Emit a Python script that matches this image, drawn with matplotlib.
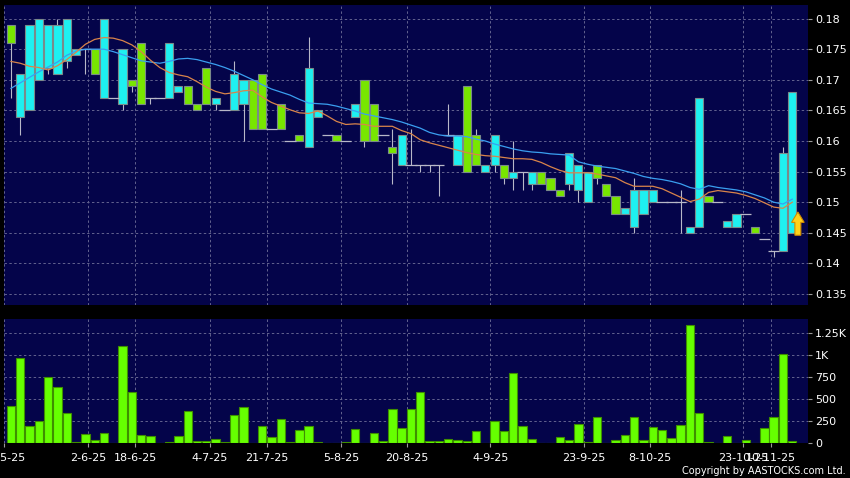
import matplotlib
matplotlib.use("Agg")
import matplotlib.pyplot as plt
import numpy as np
from matplotlib.patches import Polygon

# ---------------- data ----------------
opens = [0.179, 0.164, 0.165, 0.170, 0.172, 0.171, 0.173, 0.174, 0.175, 0.175,
         0.167, 0.167, 0.166, 0.170, 0.176, 0.167, 0.167, 0.167, 0.168, 0.169,
         0.166, 0.172, 0.166, 0.165, 0.165, 0.166, 0.170, 0.171, 0.162, 0.166,
         0.160, 0.161, 0.159, 0.164, 0.161, 0.161, 0.160, 0.164, 0.170, 0.166,
         0.161, 0.159, 0.156, 0.156, 0.156, 0.156, 0.156, 0.161, 0.156, 0.169,
         0.161, 0.155, 0.156, 0.156, 0.154, 0.155, 0.153, 0.155, 0.154, 0.152,
         0.153, 0.152, 0.150, 0.156, 0.153, 0.151, 0.148, 0.146, 0.148, 0.150,
         0.150, 0.150, 0.150, 0.145, 0.146, 0.151, 0.150, 0.146, 0.146, 0.148,
         0.146, 0.144, 0.142, 0.142, 0.145]
highs = [0.179, 0.171, 0.179, 0.180, 0.179, 0.180, 0.180, 0.175, 0.175, 0.175,
         0.180, 0.167, 0.175, 0.170, 0.176, 0.167, 0.167, 0.176, 0.169, 0.169,
         0.166, 0.172, 0.167, 0.165, 0.173, 0.170, 0.170, 0.171, 0.162, 0.166,
         0.160, 0.161, 0.177, 0.165, 0.161, 0.161, 0.160, 0.166, 0.170, 0.166,
         0.161, 0.162, 0.161, 0.162, 0.156, 0.156, 0.156, 0.166, 0.161, 0.169,
         0.162, 0.156, 0.161, 0.156, 0.160, 0.155, 0.155, 0.155, 0.154, 0.152,
         0.158, 0.156, 0.155, 0.156, 0.153, 0.151, 0.149, 0.154, 0.152, 0.152,
         0.150, 0.150, 0.152, 0.146, 0.167, 0.151, 0.150, 0.147, 0.148, 0.148,
         0.146, 0.144, 0.142, 0.159, 0.168]
lows = [0.167, 0.161, 0.165, 0.170, 0.171, 0.171, 0.172, 0.174, 0.171, 0.171,
        0.167, 0.167, 0.165, 0.168, 0.166, 0.166, 0.167, 0.167, 0.168, 0.166,
        0.165, 0.166, 0.165, 0.165, 0.165, 0.160, 0.162, 0.162, 0.162, 0.162,
        0.160, 0.160, 0.159, 0.164, 0.161, 0.160, 0.160, 0.164, 0.159, 0.160,
        0.161, 0.153, 0.156, 0.156, 0.155, 0.155, 0.151, 0.161, 0.156, 0.155,
        0.156, 0.155, 0.155, 0.153, 0.152, 0.152, 0.152, 0.153, 0.152, 0.151,
        0.152, 0.150, 0.150, 0.153, 0.151, 0.148, 0.148, 0.145, 0.148, 0.150,
        0.150, 0.150, 0.145, 0.145, 0.146, 0.150, 0.150, 0.146, 0.146, 0.148,
        0.145, 0.144, 0.141, 0.142, 0.145]
closes = [0.176, 0.171, 0.179, 0.180, 0.179, 0.179, 0.180, 0.175, 0.175, 0.171,
          0.180, 0.167, 0.175, 0.169, 0.166, 0.167, 0.167, 0.176, 0.169, 0.166,
          0.165, 0.166, 0.167, 0.165, 0.171, 0.170, 0.162, 0.162, 0.162, 0.162,
          0.160, 0.160, 0.172, 0.165, 0.161, 0.160, 0.160, 0.166, 0.160, 0.160,
          0.161, 0.158, 0.161, 0.156, 0.156, 0.156, 0.156, 0.161, 0.161, 0.155,
          0.156, 0.156, 0.161, 0.154, 0.155, 0.155, 0.155, 0.153, 0.152, 0.151,
          0.158, 0.156, 0.155, 0.154, 0.151, 0.148, 0.149, 0.152, 0.152, 0.152,
          0.150, 0.150, 0.150, 0.146, 0.167, 0.150, 0.150, 0.147, 0.148, 0.148,
          0.145, 0.144, 0.142, 0.158, 0.168]
volumes = [421, 970, 201, 250, 754, 637, 341, 11, 106, 34,
           114, 4, 1107, 584, 99, 80, 0, 11, 80, 371,
           27, 27, 45, 11, 322, 409, 8, 193, 76, 277,
           11, 155, 197, 11, 4, 3, 19, 159, 2, 117,
           23, 387, 174, 390, 580, 23, 23, 49, 38, 27,
           140, 0, 250, 140, 800, 201, 49, 0, 8, 72,
           38, 216, 11, 296, 0, 38, 99, 296, 38, 189,
           152, 61, 208, 1345, 348, 19, 0, 83, 4, 42,
           0, 170, 296, 1011, 23]
ma_long = [.1686, .1695, .1704, .1713, .1721, .1729, .1740, .1747, .1750, .1750,
           .1750, .1746, .1741, .1736, .1731, .1729, .1727, .1730, .1734, .1735,
           .1733, .1729, .1725, .1720, .1714, .1707, .1700, .1692, .1685, .1680,
           .1675, .1668, .1662, .1661, .1660, .1657, .1653, .1649, .1644, .1641,
           .1638, .1635, .1631, .1626, .1621, .1614, .1610, .1608, .1608, .1607,
           .1603, .1600, .1595, .1591, .1587, .1584, .1582, .1581, .1579, .1578,
           .1577, .1566, .1562, .1559, .1557, .1555, .1551, .1547, .1542, .1539,
           .1537, .1534, .1530, .1524, .1521, .1527, .1524, .1522, .1520, .1517,
           .1512, .1507, .1500, .1497, .1505]
ma_short = [.1730, .1727, .1722, .1720, .1716, .1723, .1733, .1745, .1758, .1766,
            .1769, .1768, .1764, .1757, .1746, .1732, .1720, .1712, .1708, .1705,
            .1697, .1688, .1681, .1677, .1679, .1682, .1683, .1672, .1663, .1657,
            .1651, .1646, .1645, .1649, .1641, .1632, .1627, .1628, .1627, .1624,
            .1624, .1624, .1617, .1612, .1602, .1597, .1593, .1589, .1585, .1581,
            .1578, .1576, .1575, .1573, .1571, .1571, .1570, .1565, .1558, .1552,
            .1548, .1548, .1548, .1546, .1543, .1540, .1532, .1526, .1526, .1526,
            .1522, .1515, .1508, .1501, .1505, .1516, .1519, .1517, .1515, .1511,
            .1506, .1499, .1492, .1490, .1500]
date_labels = ["19-5-25", "2-6-25", "18-6-25", "4-7-25", "21-7-25", "5-8-25",
               "20-8-25", "4-9-25", "23-9-25", "8-10-25", "23-10-25", "10-11-25"]
date_pos = [-0.75, 8.3, 13.35, 21.4, 27.5, 35.5, 42.6, 51.55, 61.6, 68.65, 78.7, 81.7]
price_ticks = [0.135, 0.14, 0.145, 0.15, 0.155, 0.16, 0.165, 0.17, 0.175, 0.18]
price_labels = ["0.135", "0.14", "0.145", "0.15", "0.155", "0.16", "0.165", "0.17", "0.175", "0.18"]
vol_ticks = [0, 250, 500, 750, 1000, 1250]
vol_labels = ["0", "250", "500", "750", "1K", "1.25K"]

# ---------------- style ----------------
BG = "#04044a"
GRID = "#62628f"
CYAN = "#1ef0f0"
GREEN = "#78e600"
EDGE = "#7a8a8a"
WICK = "#b8b8c8"

W, H = 850, 478
fig = plt.figure(figsize=(W / 100, H / 100), dpi=100, facecolor="black")
ax = fig.add_axes([4 / W, 1 - 305 / H, 804 / W, 300 / H])
axv = fig.add_axes([4 / W, 1 - 443.3 / H, 804 / W, 124.3 / H])

n = len(opens)
x = np.arange(n)
o = np.array(opens); c = np.array(closes); hi = np.array(highs); lo = np.array(lows)
bw = 0.88

for a in (ax, axv):
    a.set_facecolor(BG)
    for s in a.spines.values():
        s.set_visible(False)
    a.set_xlim(-0.48, 85.69)
    a.yaxis.tick_right()
    a.tick_params(axis="y", colors="#9a9a9a", labelcolor="white", labelsize=8,
                  length=3, width=0.8, pad=2)
    a.set_xticks(date_pos)
    a.grid(True, color=GRID, linestyle=(0, (2.5, 2.5)), linewidth=0.7)
    a.set_axisbelow(True)

# wicks
ax.vlines(x, lo, hi, color=WICK, linewidth=0.8, zorder=2)
# bodies
up = c > o
down = c < o
flat = c == o
ax.bar(x[up], (c - o)[up], bottom=o[up], width=bw, color=CYAN, edgecolor=EDGE,
       linewidth=0.8, zorder=3)
ax.bar(x[down], (o - c)[down], bottom=c[down], width=bw, color=GREEN, edgecolor=EDGE,
       linewidth=0.8, zorder=3)
ax.hlines(o[flat], x[flat] - 0.6, x[flat] + 0.6, color=WICK, linewidth=0.9, zorder=3)

# moving averages
ax.plot(x, ma_long, color="#3a9ff0", linewidth=0.9, zorder=4)
ax.plot(x, ma_short, color="#d9844a", linewidth=0.9, zorder=4)

# arrow marker at last bar
xa = n - 1 + 0.6
yb, yt = 0.1446, 0.1484
arrow = Polygon([[xa - 0.32, yb], [xa + 0.32, yb], [xa + 0.32, yb + 0.0021],
                 [xa + 0.68, yb + 0.0021], [xa, yt], [xa - 0.68, yb + 0.0021],
                 [xa - 0.32, yb + 0.0021]], closed=True, facecolor="#ffd21a",
                edgecolor="#d08a00", linewidth=0.8, zorder=6)
ax.add_patch(arrow)

ax.set_ylim(0.1332, 0.18222)
ax.set_yticks(price_ticks)
ax.set_yticklabels(price_labels)
ax.tick_params(axis="x", length=0, labelbottom=False)

# volume
axv.bar(x, volumes, width=0.9, color="#66ff00", edgecolor="#3f8f00", linewidth=0.8, zorder=3)
axv.set_ylim(0, 1412)
axv.set_yticks(vol_ticks)
axv.set_yticklabels(vol_labels)
axv.set_xticklabels(date_labels)
axv.tick_params(axis="x", colors="#9a9a9a", labelcolor="white", labelsize=8,
                length=3, width=0.8, pad=4)

fig.text(846 / W, 1 - 471 / H, "Copyright by AASTOCKS.com Ltd.", color="white",
         fontsize=7, ha="right", va="center")

fig.savefig("out.png", dpi=100, facecolor="black")
